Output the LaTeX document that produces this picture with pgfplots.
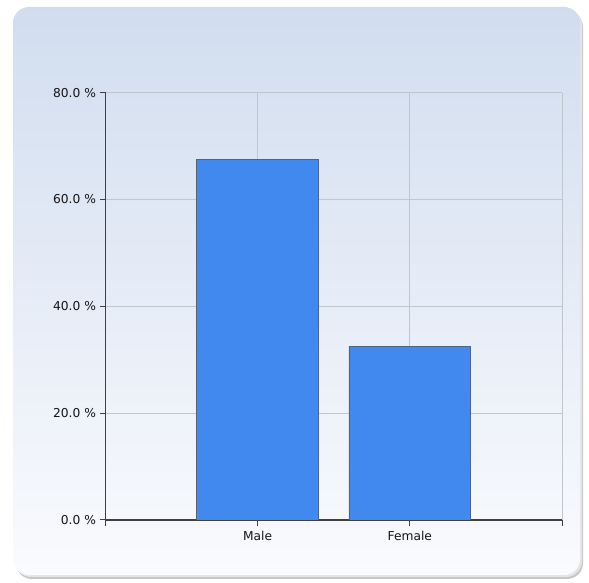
\documentclass[border=0pt]{standalone}
\usepackage{fontspec}
\setmainfont{DejaVu Sans}
\usepackage{pgfplots}
\pgfplotsset{compat=1.18}
\definecolor{bgtop}{RGB}{209,221,239}
\definecolor{bgbot}{RGB}{250,251,254}
\definecolor{barfill}{RGB}{65,137,238}
\definecolor{barline}{RGB}{80,100,130}
\definecolor{gridc}{RGB}{192,198,208}
\definecolor{axisc}{RGB}{64,64,64}
\definecolor{txt}{RGB}{20,20,24}

\begin{document}
\begin{tikzpicture}[x=1bp,y=1bp]
\useasboundingbox (0,0) rectangle (589,583);
% panel with a soft drop shadow
\fill[black!22, rounded corners=16bp] (16,4) rectangle (583,572);
\fill[black!10, rounded corners=16bp] (15,6) rectangle (582,574);
\shade[top color=bgtop, bottom color=bgbot, rounded corners=16bp] (13,8) rectangle (580,576);
\begin{axis}[
  at={(105.5bp,63bp)}, anchor=south west,
  width=456.5bp, height=427.3bp, scale only axis,
  xmin=0, xmax=3, ymin=0, ymax=80,
  axis lines=left,
  axis line style={-, axisc, line width=1.2bp},
  xtick={0,1,2,3}, xticklabels={,Male,Female,},
  ytick={0,20,40,60,80},
  yticklabels={0.0 \%,20.0 \%,40.0 \%,60.0 \%,80.0 \%},
  grid=major, grid style={gridc, line width=0.7bp},
  tick align=outside, major tick length=6bp,
  tick style={axisc, line width=1bp},
  ticklabel style={font=\fontsize{12.3}{14}\selectfont, text=txt},
  xticklabel style={yshift=-2bp},
  ybar, bar width=0.8, bar shift=0pt,
]
\addplot[fill=barfill, draw=barline, line width=0.7bp] coordinates {(1,67.5) (2,32.5)};
\end{axis}
\end{tikzpicture}
\end{document}
